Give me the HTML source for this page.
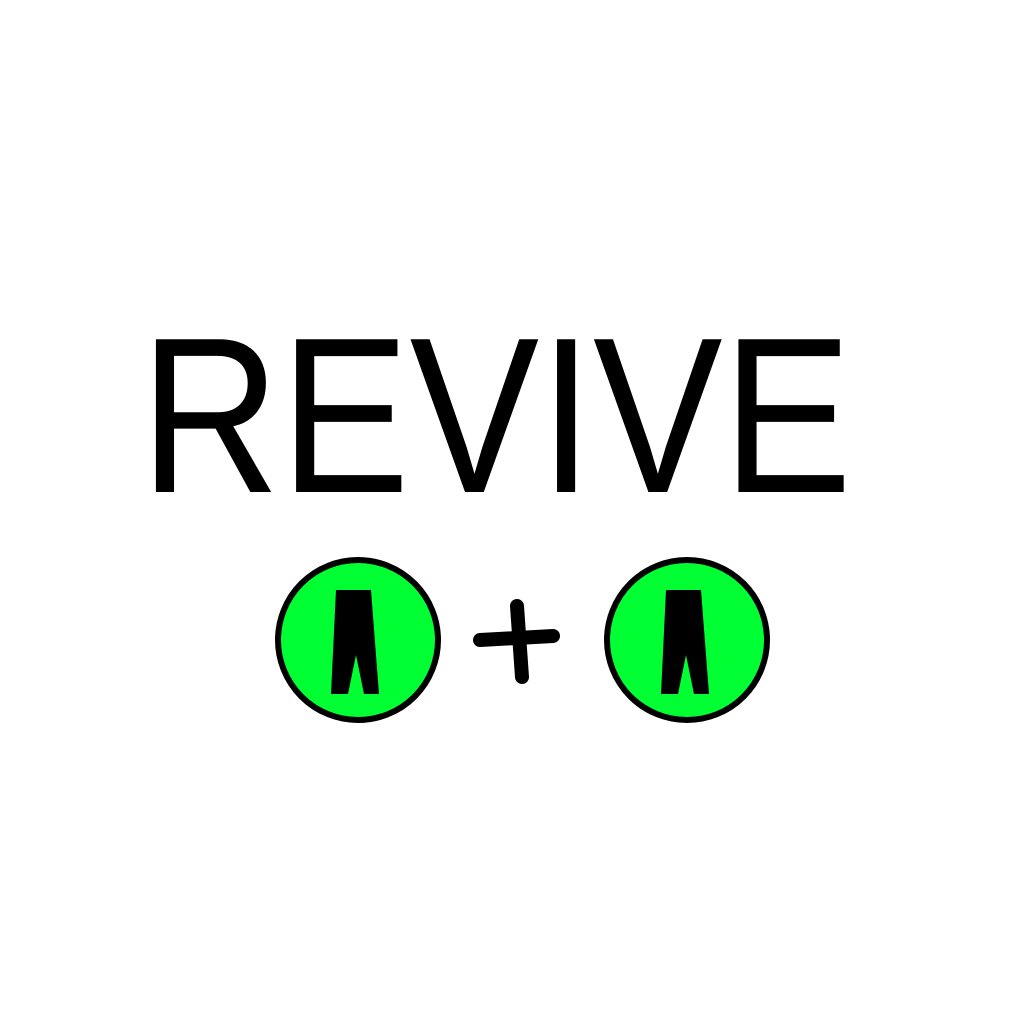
<!DOCTYPE html>
<html><head><meta charset="utf-8"><style>
html,body{margin:0;padding:0;background:#fff;}
svg{display:block;}
</style></head><body>
<svg width="1024" height="1024" viewBox="0 0 1024 1024">
  <rect width="1024" height="1024" fill="#fff"/>
  <text x="140" y="492" font-family="Liberation Sans, sans-serif" font-size="222" textLength="712" lengthAdjust="spacingAndGlyphs" fill="#000">REVIVE</text>
  <g>
    <circle cx="358" cy="640" r="80" fill="#00ff33" stroke="#000" stroke-width="6"/>
    <polygon points="336,590 371,590 379,694 364,694 356,655 348,694 331,694" fill="#000"/>
  </g>
  <g stroke="#000" stroke-width="14" stroke-linecap="round">
    <line x1="480" y1="640" x2="553" y2="636"/>
    <line x1="517" y1="606" x2="522" y2="677"/>
  </g>
  <g>
    <circle cx="687" cy="640" r="80" fill="#00ff33" stroke="#000" stroke-width="6"/>
    <polygon points="666,590 701,590 709,694 694,694 686,655 678,694 661,694" fill="#000"/>
  </g>
</svg>
</body></html>
